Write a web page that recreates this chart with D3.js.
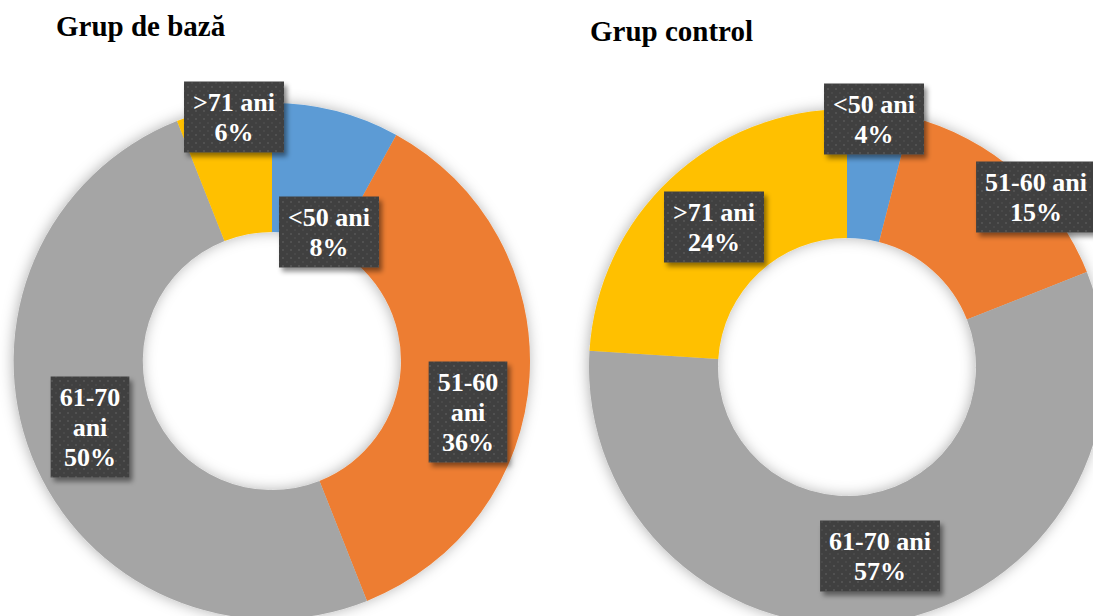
<!DOCTYPE html>
<html>
<head>
<meta charset="utf-8">
<script src="https://cdn.jsdelivr.net/npm/d3@7"></script>
<style>
  body { margin: 0; background: #fff; }
  svg { display: block; }
</style>
</head>
<body>
<div id="chart"></div>
<script>
// categories (same order, clockwise from 12 o'clock)
var categories = ["<50 ani", "51-60 ani", "61-70 ani", ">71 ani"];
var colors = ["#5B9BD5", "#ED7D31", "#A5A5A5", "#FFC000"];

// percentages
var bazaValues = [8, 36, 50, 6];
var controlValues = [4, 15, 57, 24];

// label texts as they are broken into lines in the original
var bazaLabels = [["<50 ani", "8%"], ["51-60", "ani", "36%"], ["61-70", "ani", "50%"], [">71 ani", "6%"]];
var controlLabels = [["<50 ani", "4%"], ["51-60 ani", "15%"], ["61-70 ani", "57%"], [">71 ani", "24%"]];

var serif = "'Liberation Serif', 'Times New Roman', Times, serif";

var svgWidth = 1093, svgHeight = 616;

var svg = d3.select("#chart").append("svg")
  .attr("width", svgWidth)
  .attr("height", svgHeight);

var defs = svg.append("defs");

// soft glow around the rings
var glow = defs.append("filter").attr("id", "glow")
  .attr("x", "-20%").attr("y", "-20%").attr("width", "140%").attr("height", "140%");
glow.append("feDropShadow")
  .attr("dx", -1).attr("dy", 0).attr("stdDeviation", 7)
  .attr("flood-color", "#000").attr("flood-opacity", 0.3);

// shadow under label boxes
var boxShadow = defs.append("filter").attr("id", "boxShadow")
  .attr("x", "-20%").attr("y", "-20%").attr("width", "150%").attr("height", "150%");
boxShadow.append("feDropShadow")
  .attr("dx", 3).attr("dy", 4).attr("stdDeviation", 2.5)
  .attr("flood-color", "#000").attr("flood-opacity", 0.45);

// dotted texture of the label boxes
var pat = defs.append("pattern").attr("id", "dots")
  .attr("patternUnits", "userSpaceOnUse")
  .attr("width", 8).attr("height", 8);
pat.append("rect").attr("width", 8).attr("height", 8).attr("fill", "#3f3f3f");
pat.append("circle").attr("cx", 2).attr("cy", 2).attr("r", 1).attr("fill", "#575757");
pat.append("circle").attr("cx", 6).attr("cy", 6).attr("r", 1).attr("fill", "#4e4e4e");

var outerR = 258, innerR = 129;

var pie = d3.pie().sort(null).value(d => d);
var arc = d3.arc().innerRadius(innerR).outerRadius(outerR);

function drawDonut(opts) {
  var g = svg.append("g")
    .attr("transform", `translate(${opts.cx}, ${opts.cy})`);

  g.append("g")
    .attr("filter", "url(#glow)")
    .selectAll("path")
    .data(pie(opts.values))
    .enter()
    .append("path")
    .attr("d", arc)
    .attr("fill", (d, i) => colors[i]);

  svg.append("text")
    .attr("x", opts.titleX)
    .attr("y", opts.titleY)
    .style("font-family", serif)
    .style("font-weight", "bold")
    .style("font-size", "29px")
    .attr("fill", "#000")
    .text(opts.title);

  // data labels
  opts.labels.forEach(function (lines, i) {
    var pos = opts.labelPos[i];
    var lg = g.append("g")
      .attr("transform", `translate(${pos[0]}, ${pos[1]})`);

    var lineH = 30;
    var box = lg.append("rect")
      .attr("fill", "url(#dots)")
      .attr("filter", "url(#boxShadow)");

    var txt = lg.append("text")
      .style("font-family", serif)
      .style("font-weight", "bold")
      .style("font-size", "26px")
      .attr("fill", "#fff")
      .attr("text-anchor", "middle");

    lines.forEach(function (l, j) {
      txt.append("tspan")
        .attr("x", 0)
        .attr("y", (j - (lines.length - 1) / 2) * lineH + 9)
        .text(l);
    });

    var w = txt.node().getBBox().width + 18;
    var h = lines.length * lineH + 11;
    box.attr("x", -w / 2).attr("y", -h / 2)
      .attr("width", w).attr("height", h);
  });
}

drawDonut({
  cx: 272, cy: 361,
  values: bazaValues,
  labels: bazaLabels,
  labelPos: [[57, -129], [196, 51], [-182, 66], [-38, -244]],
  title: "Grup de bază", titleX: 56, titleY: 36
});

drawDonut({
  cx: 847, cy: 367,
  values: controlValues,
  labels: controlLabels,
  labelPos: [[27, -248], [189, -170], [33, 189], [-133, -140]],
  title: "Grup control", titleX: 590, titleY: 41
});
</script>
</body>
</html>
